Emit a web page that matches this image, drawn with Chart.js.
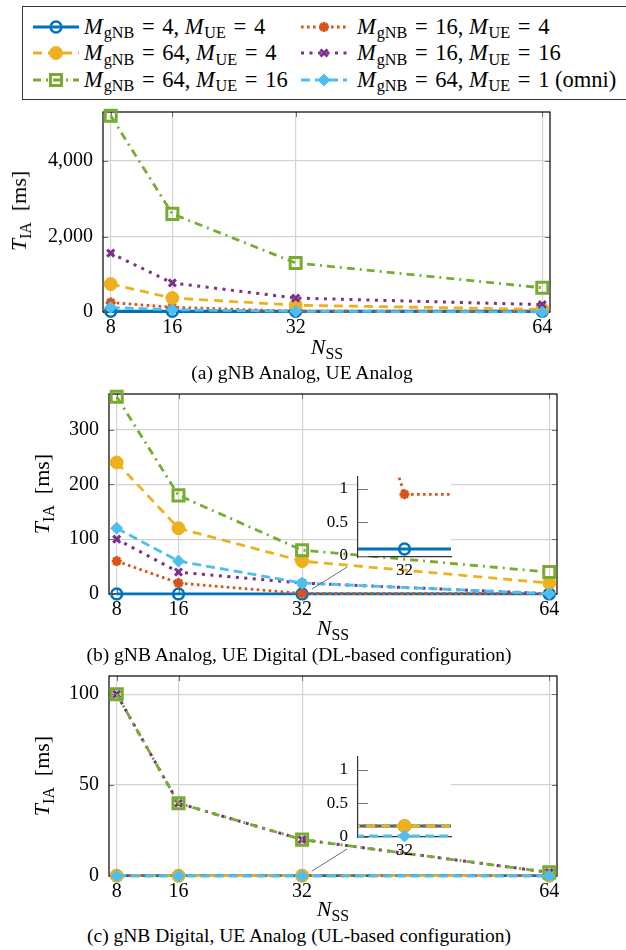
<!DOCTYPE html>
<html>
<head>
<meta charset="utf-8">
<title>Initial access time vs N_SS</title>
<script src="https://cdn.jsdelivr.net/npm/chart.js@4.4.1/dist/chart.umd.min.js"></script>
<style>
  html, body { margin: 0; padding: 0; background: #fff; }
  body { width: 626px; height: 950px; position: relative; overflow: hidden;
         font-family: "Liberation Serif", "DejaVu Serif", serif; color: #000; }
  canvas.plot { position: absolute; left: 0; }
  canvas.inset { position: absolute; }
  #legend-box { position: absolute; left: 22px; top: 6px; width: 640px; height: 94px;
                border: 1.3px solid #333; box-sizing: border-box; }
  .lg-sample { position: absolute; }
  .lg-text { position: absolute; white-space: nowrap; font-size: 22.5px; line-height: 26px; }
  .lg-text i { margin-right: 0.04em; }
  .sb { font-size: 0.72em; position: relative; top: 0.3em; font-style: normal; }
  .eq { margin: 0 0.34em; }
  .ttl { position: absolute; white-space: nowrap; font-size: 22px; transform: translate(-50%, -50%); }
  .yttl { transform: translate(-50%, -50%) rotate(-90deg); }
  .cap { position: absolute; white-space: nowrap; font-size: 19.5px; transform: translate(-50%, -50%); }
</style>
</head>
<body>
<div id="legend-box"></div>

<canvas id="chart-a" class="plot" style="top:100px" width="626" height="240"></canvas>
<canvas id="chart-b" class="plot" style="top:380px" width="626" height="240"></canvas>
<canvas id="chart-c" class="plot" style="top:660px" width="626" height="240"></canvas>
<canvas id="inset-b" class="inset" style="left:300px;top:465px" width="170" height="120"></canvas>
<canvas id="inset-c" class="inset" style="left:300px;top:745px" width="170" height="120"></canvas>

<div class="ttl yttl" style="left:19px;top:211px"><i>T</i><span class="sb">IA</span>&nbsp; [ms]</div>
<div class="ttl yttl" style="left:42px;top:494px"><i>T</i><span class="sb">IA</span>&nbsp; [ms]</div>
<div class="ttl yttl" style="left:42px;top:776px"><i>T</i><span class="sb">IA</span>&nbsp; [ms]</div>

<div class="ttl" style="left:327px;top:347px"><i>N</i><span class="sb">SS</span></div>
<div class="ttl" style="left:333px;top:628px"><i>N</i><span class="sb">SS</span></div>
<div class="ttl" style="left:333px;top:909px"><i>N</i><span class="sb">SS</span></div>

<div class="cap" style="left:302px;top:373px">(a) gNB Analog, UE Analog</div>
<div class="cap" style="left:299px;top:655px">(b) gNB Analog, UE Digital (DL-based configuration)</div>
<div class="cap" style="left:299px;top:936px">(c) gNB Digital, UE Analog (UL-based configuration)</div>

<script>
// --- Data, order: (4,4) (16,4) (64,4) (16,16) (64,16) (64,1 omni)
var nss = [8, 16, 32, 64];
var xTicks = [8, 16, 32, 64];

// (a) gNB Analog, UE Analog
var aG4U4 = [20, 20, 20, 20];
var aG16U4 = [250, 125, 20, 20];
var aG64U4 = [740, 370, 180, 70];
var aG16U16 = [1560, 770, 370, 195];
var aG64U16 = [5200, 2600, 1300, 640];
var aG64U1 = [120, 60, 20, 0.5];
var aTicks = [0, 2000, 4000];

// (b) gNB Analog, UE Digital
var bG4U4 = [0.1, 0.1, 0.1, 0.1];
var bG16U4 = [60, 20, 0.92, 0.92];
var bG64U4 = [240, 120, 60, 20];
var bG16U16 = [100, 40, 20, 0.5];
var bG64U16 = [360, 180, 80, 40];
var bG64U1 = [120, 60, 20, 0.5];
var bTicks = [0, 100, 200, 300];

// (c) gNB Digital, UE Analog
var cG4U4 = [0.16, 0.16, 0.16, 0.16];
var cG16U4 = [0.16, 0.16, 0.16, 0.16];
var cG64U4 = [0.16, 0.16, 0.16, 0.16];
var cG16U16 = [100, 40, 20, 2];
var cG64U16 = [100, 40, 20, 2];
var cG64U1 = [0.01, 0.01, 0.01, 0.01];
var cTicks = [0, 50, 100];

// zoom insets around N_SS = 32
var insetXTicks = [32];
var insetYTicks = [0, 0.5, 1];

var legendLabels = [
  ["4", "4"], ["16", "4"], ["64", "4"], ["16", "16"], ["64", "16"], ["64", "1 (omni)"]
];

(function () {
  "use strict";

  var FONT = '"Liberation Serif", "Times New Roman", serif';
  Chart.defaults.font.family = FONT;
  Chart.defaults.color = "#000";

  // --- series styles (matlab colour order)
  var styles = [
    { color: "#0072BD", dash: [], width: 2.8, point: "circle", radius: 5.4, fill: "rgba(255,255,255,0)", pbw: 2.5 },
    { color: "#D95319", dash: [2.6, 3.4], width: 2.8, point: "star", radius: 5, fill: "#D95319", pbw: 2.8 },
    { color: "#EDB120", dash: [9, 6], width: 2.8, point: "circle", radius: 6.5, fill: "#EDB120", pbw: 1 },
    { color: "#7E2F8E", dash: [3, 5.5], width: 3, point: "crossRot", radius: 5, fill: "#7E2F8E", pbw: 3 },
    { color: "#77AC30", dash: [8, 5, 2, 5], width: 2.8, point: "rect", radius: 7.8, fill: "rgba(255,255,255,0)", pbw: 3 },
    { color: "#4DBEEE", dash: [9, 5], width: 2.8, point: "rectRot", radius: 6, fill: "#4DBEEE", pbw: 1 }
  ];

  function makeDatasets(values, clip) {
    return styles.map(function (s, k) {
      return {
        data: nss.map(function (x, i) { return { x: x, y: values[k][i] }; }),
        borderColor: s.color,
        borderWidth: s.width,
        borderDash: s.dash,
        pointStyle: s.point,
        pointRadius: s.radius,
        pointHoverRadius: s.radius,
        pointBorderWidth: s.pbw,
        pointBackgroundColor: s.fill,
        pointBorderColor: s.color,
        tension: 0,
        fill: false,
        clip: clip,
        order: styles.length - k
      };
    });
  }

  function noScalePad(s) {
    s.paddingTop = 0; s.paddingBottom = 0; s.paddingLeft = 0; s.paddingRight = 0;
  }

  // --- full box + inward ticks (drawn under the data)
  var framePlugin = {
    id: "frame",
    beforeDatasetsDraw: function (chart) {
      var ctx = chart.ctx, a = chart.chartArea, sx = chart.scales.x, sy = chart.scales.y;
      ctx.save();
      ctx.strokeStyle = "#707070";
      ctx.lineWidth = 1;
      ctx.beginPath();
      sx.ticks.forEach(function (t) {
        var px = Math.round(sx.getPixelForValue(t.value)) + 0.5;
        ctx.moveTo(px, a.top); ctx.lineTo(px, a.top + 5);
        ctx.moveTo(px, a.bottom); ctx.lineTo(px, a.bottom - 5);
      });
      sy.ticks.forEach(function (t) {
        var py = Math.round(sy.getPixelForValue(t.value)) + 0.5;
        ctx.moveTo(a.left, py); ctx.lineTo(a.left + 5, py);
        ctx.moveTo(a.right, py); ctx.lineTo(a.right - 5, py);
      });
      ctx.stroke();
      ctx.strokeStyle = "#000";
      ctx.lineWidth = 1.2;
      ctx.strokeRect(a.left, a.top, a.right - a.left, a.bottom - a.top);
      ctx.restore();
    }
  };

  // --- thin pointer from the zoomed spot to its inset
  var pointerPlugin = {
    id: "pointer",
    afterDraw: function (chart) {
      var ctx = chart.ctx, sx = chart.scales.x, sy = chart.scales.y;
      var x0 = sx.getPixelForValue(32), y0 = sy.getPixelForValue(0);
      ctx.save();
      ctx.strokeStyle = "#6f6f6f";
      ctx.lineWidth = 1;
      ctx.beginPath();
      ctx.moveTo(x0 + 10, y0 - 5);
      ctx.lineTo(x0 + 45, y0 - 27);
      ctx.stroke();
      ctx.restore();
    }
  };

  function mainChart(id, values, yMax, yTicks, lay, withPointer) {
    var el = document.getElementById(id);
    return new Chart(el, {
      type: "line",
      data: { datasets: makeDatasets(values, false) },
      plugins: withPointer ? [framePlugin, pointerPlugin] : [framePlugin],
      options: {
        responsive: false,
        animation: false,
        devicePixelRatio: 1,
        layout: { padding: { top: lay.top, right: lay.right, left: 0, bottom: 0 } },
        plugins: { legend: { display: false }, tooltip: { enabled: false } },
        scales: {
          x: {
            type: "linear", min: 7, max: 65,
            afterBuildTicks: function (s) { s.ticks = xTicks.map(function (v) { return { value: v }; }); },
            afterFit: function (s) { s.height = lay.xh; noScalePad(s); },
            ticks: { font: { family: FONT, size: 20 }, color: "#000", padding: 4, maxRotation: 0, autoSkip: false,
                     callback: function (v) { return String(v); } },
            grid: { color: "#d4d4d4", lineWidth: 1.2, drawTicks: false },
            border: { display: false }
          },
          y: {
            type: "linear", min: 0, max: yMax,
            afterBuildTicks: function (s) { s.ticks = yTicks.map(function (v) { return { value: v }; }); },
            afterFit: function (s) { s.width = lay.yw; noScalePad(s); },
            ticks: { font: { family: FONT, size: 20 }, color: "#000", padding: 10,
                     callback: function (v) { return v.toLocaleString("en-US"); } },
            grid: { color: "#d4d4d4", lineWidth: 1.2, drawTicks: false },
            border: { display: false }
          }
        }
      }
    });
  }

  var insetPlugin = {
    id: "insetBg",
    beforeDraw: function (chart) {
      var ctx = chart.ctx, a = chart.chartArea;
      ctx.save();
      ctx.fillStyle = "#fff";
      ctx.fillRect(a.left, a.top, a.right - a.left, a.bottom - a.top);
      ctx.restore();
    },
    beforeDatasetsDraw: function (chart) {
      var ctx = chart.ctx, a = chart.chartArea, sy = chart.scales.y;
      ctx.save();
      ctx.strokeStyle = "#777";
      ctx.lineWidth = 1;
      ctx.beginPath();
      sy.ticks.forEach(function (t) {
        var py = Math.round(sy.getPixelForValue(t.value)) + 0.5;
        ctx.moveTo(a.left, py); ctx.lineTo(a.left + 10, py);
      });
      ctx.stroke();
      ctx.restore();
    }
  };

  function insetChart(id, values, yMin, yMax) {
    var el = document.getElementById(id);
    return new Chart(el, {
      type: "line",
      data: { datasets: makeDatasets(values, { left: 0, right: 0, top: 0, bottom: 8 }) },
      plugins: [insetPlugin],
      options: {
        responsive: false,
        animation: false,
        devicePixelRatio: 1,
        layout: { padding: { top: 12, right: 19, left: 0, bottom: 0 } },
        plugins: { legend: { display: false }, tooltip: { enabled: false } },
        scales: {
          x: {
            type: "linear", min: 30.2, max: 33.8,
            afterBuildTicks: function (s) { s.ticks = insetXTicks.map(function (v) { return { value: v }; }); },
            afterFit: function (s) { s.height = 28; noScalePad(s); },
            ticks: { font: { family: FONT, size: 17 }, color: "#000", padding: 3, maxRotation: 0,
                     callback: function (v) { return String(v); } },
            grid: { display: false, drawTicks: false },
            border: { display: true, color: "#333", width: 1.2 }
          },
          y: {
            type: "linear", min: yMin, max: yMax,
            afterBuildTicks: function (s) { s.ticks = insetYTicks.map(function (v) { return { value: v }; }); },
            afterFit: function (s) { s.width = 58; noScalePad(s); },
            ticks: { font: { family: FONT, size: 17 }, color: "#000", padding: 10,
                     callback: function (v) { return String(v); } },
            grid: { display: false, drawTicks: false },
            border: { display: true, color: "#333", width: 1.2 }
          }
        }
      }
    });
  }

  mainChart("chart-a", [aG4U4, aG16U4, aG64U4, aG16U16, aG64U16, aG64U1], 5300, aTicks,
            { top: 12, right: 76, yw: 103, xh: 28 }, false);
  mainChart("chart-b", [bG4U4, bG16U4, bG64U4, bG16U16, bG64U16, bG64U1], 365, bTicks,
            { top: 14, right: 69, yw: 109, xh: 26 }, true);
  mainChart("chart-c", [cG4U4, cG16U4, cG64U4, cG16U16, cG64U16, cG64U1], 110, cTicks,
            { top: 16, right: 69, yw: 109, xh: 24 }, true);
  insetChart("inset-b", [bG4U4, bG16U4, bG64U4, bG16U16, bG64U16, bG64U1], -0.02, 1.18);
  insetChart("inset-c", [cG4U4, cG16U4, cG64U4, cG16U16, cG64U16, cG64U1], -0.005, 1.195);

  // --- Legend: sample glyphs + real text
  var rowsY = [26.5, 53, 79.5];
  var colSample = [32, 300];
  var colText = [84, 357];
  styles.forEach(function (s, k) {
    var row = Math.floor(k / 2), col = k % 2;
    var cv = document.createElement("canvas");
    cv.className = "lg-sample";
    cv.width = 48; cv.height = 26;
    cv.style.left = colSample[col] + "px";
    cv.style.top = (rowsY[row] - 13) + "px";
    document.body.appendChild(cv);
    var ctx = cv.getContext("2d");
    ctx.strokeStyle = s.color;
    ctx.lineWidth = s.width;
    ctx.setLineDash(s.dash);
    ctx.beginPath(); ctx.moveTo(1, 13); ctx.lineTo(47, 13); ctx.stroke();
    ctx.setLineDash([]);
    ctx.fillStyle = s.fill;
    ctx.strokeStyle = s.color;
    ctx.lineWidth = s.pbw;
    Chart.helpers.drawPoint(ctx, { pointStyle: s.point, radius: s.radius, rotation: 0, borderWidth: s.pbw }, 24, 13);

    var tx = document.createElement("div");
    tx.className = "lg-text";
    tx.style.left = colText[col] + "px";
    tx.style.top = (rowsY[row] - 13) + "px";
    tx.innerHTML = "<i>M</i><span class='sb'>gNB</span><span class='eq'>=</span>" + legendLabels[k][0] +
                   ", <i>M</i><span class='sb'>UE</span><span class='eq'>=</span>" + legendLabels[k][1];
    document.body.appendChild(tx);
  });
})();
</script>
</body>
</html>
